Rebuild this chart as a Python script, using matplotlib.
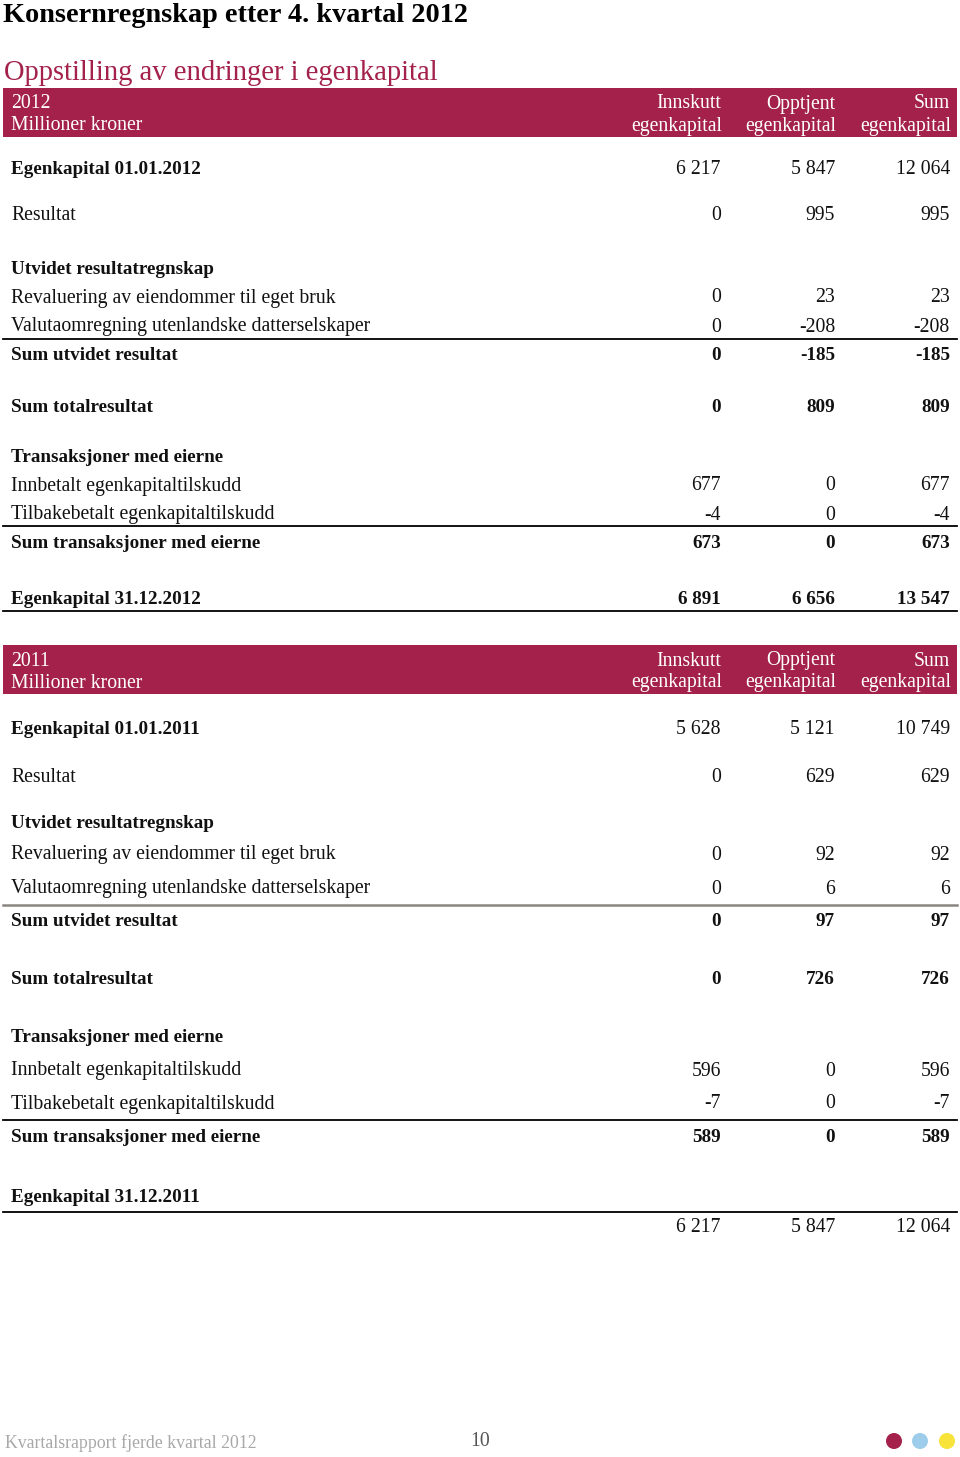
import matplotlib
matplotlib.use("Agg")
import matplotlib.pyplot as plt
from matplotlib.patches import Rectangle, Circle

W, H = 960, 1457
CRIMSON = "#A3214A"
FONT = "Liberation Serif"
FS = 14.2
FS_BOLD = 13.8

title = "Konsernregnskap etter 4. kvartal 2012"
subtitle = "Oppstilling av endringer i egenkapital"
col_headers = [("Innskutt", "egenkapital"), ("Opptjent", "egenkapital"), ("Sum", "egenkapital")]

labels_2012 = [
    "Egenkapital 01.01.2012", "Resultat", "Utvidet resultatregnskap",
    "Revaluering av eiendommer til eget bruk", "Valutaomregning utenlandske datterselskaper",
    "Sum utvidet resultat", "Sum totalresultat", "Transaksjoner med eierne",
    "Innbetalt egenkapitaltilskudd", "Tilbakebetalt egenkapitaltilskudd",
    "Sum transaksjoner med eierne", "Egenkapital 31.12.2012",
]
innskutt_2012 = ["6 217", "0", "", "0", "0", "0", "0", "", "677", "-4", "673", "6 891"]
opptjent_2012 = ["5 847", "995", "", "23", "-208", "-185", "809", "", "0", "0", "0", "6 656"]
sum_2012 = ["12 064", "995", "", "23", "-208", "-185", "809", "", "677", "-4", "673", "13 547"]

labels_2011 = [
    "Egenkapital 01.01.2011", "Resultat", "Utvidet resultatregnskap",
    "Revaluering av eiendommer til eget bruk", "Valutaomregning utenlandske datterselskaper",
    "Sum utvidet resultat", "Sum totalresultat", "Transaksjoner med eierne",
    "Innbetalt egenkapitaltilskudd", "Tilbakebetalt egenkapitaltilskudd",
    "Sum transaksjoner med eierne", "Egenkapital 31.12.2011", "",
]
innskutt_2011 = ["5 628", "0", "", "0", "0", "0", "0", "", "596", "-7", "589", "", "6 217"]
opptjent_2011 = ["5 121", "629", "", "92", "6", "97", "726", "", "0", "0", "0", "", "5 847"]
sum_2011 = ["10 749", "629", "", "92", "6", "97", "726", "", "596", "-7", "589", "", "12 064"]

# layout
rows_y_2012 = [168, 214, 267, 296, 325, 353, 405, 456, 484, 513, 541, 598]
rows_y_2011 = [727, 775, 821, 853, 887, 919, 978, 1036, 1069, 1102, 1135, 1196, 1226]
bold_labels = {0, 2, 5, 6, 7, 10, 11}
bold_values = {5, 6, 10, 11}
col_x = [721, 835, 950]
DY = 2  # nudge text down to match baseline

fig = plt.figure(figsize=(W / 100, H / 100), dpi=100)
ax = fig.add_axes([0, 0, 1, 1])
ax.set_xlim(0, W)
ax.set_ylim(H, 0)
ax.axis("off")

ax.text(3, 15, title, fontsize=20.3, fontweight="bold", family=FONT, va="center")
ax.text(4, 73, subtitle, fontsize=20.6, color=CRIMSON, family=FONT, va="center")


def header(y0, year):
    ax.add_patch(Rectangle((3, y0), 954, 49, facecolor=CRIMSON, edgecolor="none"))
    ax.text(11, y0 + 14 + DY, year, color="white", fontsize=FS, family=FONT, va="center")
    ax.text(11, y0 + 36 + DY, "Millioner kroner", color="white", fontsize=FS, family=FONT, va="center")
    for x, (a, b) in zip(col_x, col_headers):
        ax.text(x, y0 + 14 + DY, a, color="white", fontsize=FS, family=FONT, va="center", ha="right")
        ax.text(x + 1, y0 + 36 + DY, b, color="white", fontsize=FS, family=FONT, va="center", ha="right")


def body(labels, cols, ys):
    for i, (lab, y) in enumerate(zip(labels, ys)):
        lb = i in bold_labels
        vb = i in bold_values
        ax.text(11, y + DY, lab, fontsize=FS_BOLD if lb else FS, family=FONT,
                fontweight="bold" if lb else "normal", va="center", color="#111111")
        for x, col in zip(col_x, cols):
            ax.text(x, y + DY, col[i], fontsize=FS_BOLD if vb else FS, family=FONT,
                    fontweight="bold" if vb else "normal", va="center", ha="right", color="#111111")


header(88, "2012")
body(labels_2012, [innskutt_2012, opptjent_2012, sum_2012], rows_y_2012)
for y in (339, 526, 611):
    ax.plot([3, 957], [y, y], color="black", lw=1.3)

header(645, "2011")
body(labels_2011, [innskutt_2011, opptjent_2011, sum_2011], rows_y_2011)
ax.plot([3, 957], [905, 905], color="#8a8580", lw=1.8)
for y in (1120, 1212):
    ax.plot([3, 957], [y, y], color="black", lw=1.3)

# footer
ax.text(5, 1443, "Kvartalsrapport fjerde kvartal 2012", fontsize=12.8, family=FONT, color="#a8a8a8",
        va="center")
ax.text(480, 1442, "10", fontsize=FS, family=FONT, color="#555555", va="center", ha="center")
for x, c in zip([894, 920, 947], [CRIMSON, "#9ECDEB", "#F7E33A"]):
    ax.add_patch(Circle((x, 1441), 8, facecolor=c, edgecolor="none"))

fig.savefig("out.png", dpi=100)
